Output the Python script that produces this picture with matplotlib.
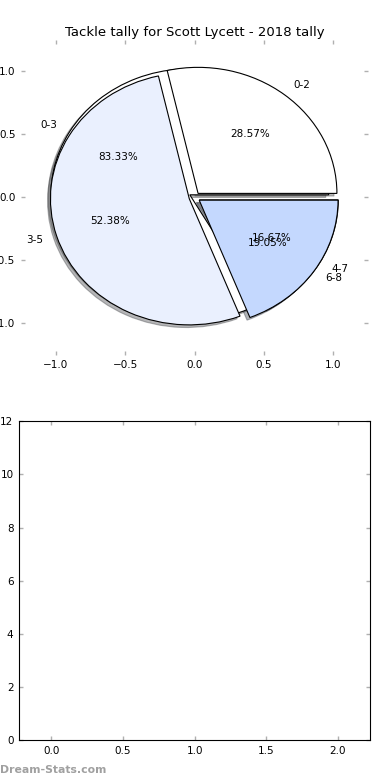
import matplotlib.pyplot as plt

title = "Tackle tally for Scott Lycett - 2018 tally"

# tackle ranges (two tallies drawn on the same pie axes)
ranges_a = ["0-3", "4-7"]
counts_a = [5, 1]
ranges_b = ["0-2", "3-5", "6-8"]
counts_b = [6, 11, 4]

colours = ["#ffffff", "#eaf0fe", "#c4d8fe"]

fig = plt.figure(figsize=(3.9, 7.8), dpi=100)

ax1 = fig.add_axes([0.054, 0.545, 0.89, 0.404])
wp = {"edgecolor": "black", "linewidth": 0.8}
ax1.pie(counts_a, labels=ranges_a, colors=colours[:2], explode=[0.04] * 2,
        autopct="%.2f%%", shadow={"ox": -0.015, "oy": -0.015, "alpha": 0.4},
        wedgeprops=wp, textprops={"fontsize": 7.5})
ax1.pie(counts_b, labels=ranges_b, colors=colours, explode=[0.04] * 3,
        autopct="%.2f%%", shadow={"ox": -0.015, "oy": -0.015, "alpha": 0.4},
        wedgeprops=wp, textprops={"fontsize": 7.5})
ax1.set_aspect("auto")
ax1.set_xlim(-1.25, 1.25)
ax1.set_ylim(-1.25, 1.25)
ax1.set_frame_on(False)
ax1.set_xticks([-1.0, -0.5, 0.0, 0.5, 1.0])
ax1.set_yticks([-1.0, -0.5, 0.0, 0.5, 1.0])
ax1.set_title(title, fontsize=9.5, pad=3)

ax2 = fig.add_axes([0.049, 0.051, 0.90, 0.409])
ax2.set_xlim(-0.225, 2.225)
ax2.set_ylim(0, 12)
ax2.set_xticks([0.0, 0.5, 1.0, 1.5, 2.0])
ax2.set_yticks(range(0, 13, 2))

for ax in (ax1, ax2):
    ax.tick_params(direction="in", length=3, width=1, color="#b0b0b0",
                   labelsize=7.5, top=True, right=True, pad=4)

fig.text(0.0, 0.006, "Dream-Stats.com", color="#a0a0a0", fontsize=7.8,
         fontweight="bold", ha="left", va="bottom")

plt.savefig("out.png", dpi=100)
